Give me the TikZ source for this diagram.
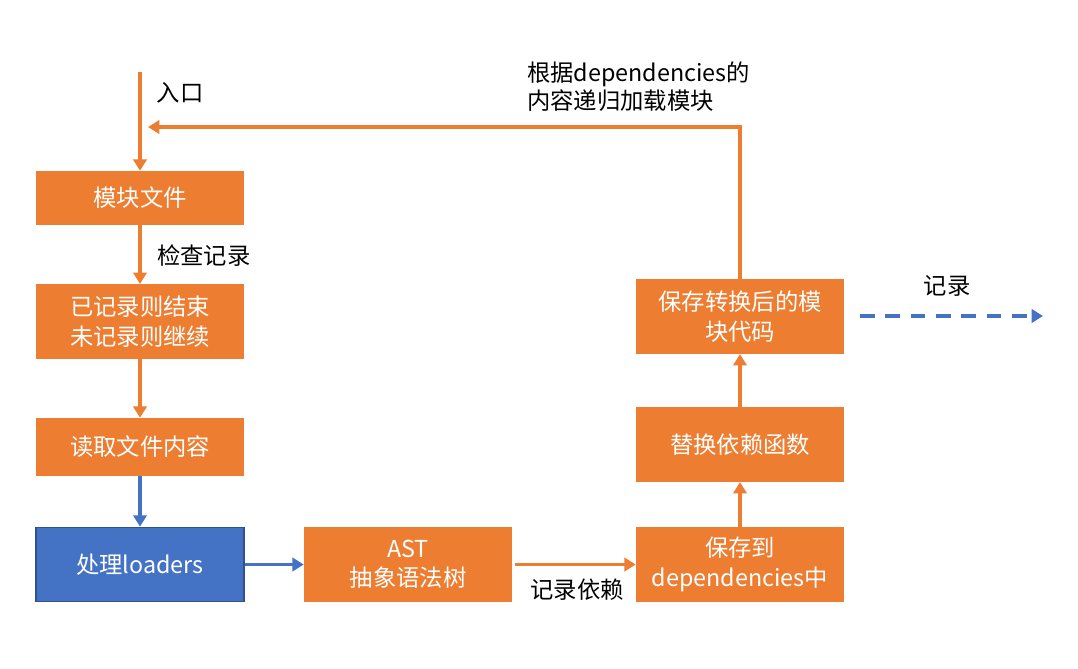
\documentclass[tikz,border=0pt]{standalone}
\usepackage{fontspec}
\setmainfont{Noto Sans CJK SC}
\usetikzlibrary{arrows.meta}
\definecolor{ora}{HTML}{ED7D31}
\definecolor{blu}{HTML}{4472C4}
\definecolor{bluedge}{HTML}{2F528F}
\begin{document}
\begin{tikzpicture}[x=0.75pt,y=-0.75pt,
  box/.style={fill=ora,text=white,minimum width=156pt,inner sep=0pt,align=center,font=\fontsize{17.5}{22}\selectfont},
  bbox/.style={box,fill=blu,draw=bluedge,line width=0.8pt},
  lbl/.style={text=black,inner sep=0pt,align=left,font=\fontsize{17.5}{21}\selectfont},
  oarrow/.style={draw=ora,line width=2.6pt,-{Triangle[length=8.5pt,width=10pt]}},
  barrow/.style={draw=blu,line width=2.6pt,-{Triangle[length=8.5pt,width=10pt]}}]
\useasboundingbox (0,0) rectangle (1078,668);
\node[box,minimum height=40.5pt] (m1) at (140,198) {模块文件};
\node[box,minimum height=56pt] (m2) at (140,321.5) {已记录则结束\\未记录则继续};
\node[box,minimum height=43.5pt] (m3) at (140,447) {读取文件内容};
\node[bbox,minimum height=56pt] (m4) at (140,564.5) {处理loaders};
\node[box,minimum height=56pt] (m5) at (408,564.5) {AST\\抽象语法树};
\node[box,minimum height=56pt] (m6) at (740,564.5) {保存到\\dependencies中};
\node[box,minimum height=56pt] (m7) at (740,444.5) {替换依赖函数};
\node[box,minimum height=56pt] (m8) at (740,316.5) {保存转换后的模\\块代码};
\coordinate (entry) at (140,72);
\coordinate (back) at (148,127);
\coordinate (ds) at (860,316);
\coordinate (de) at (1043,316);
\node[lbl] (l1) at (180,93) {入口};
\node[lbl,anchor=west] (l2) at (157,256) {检查记录};
\node[lbl] (l3) at (577,590) {记录依赖};
\node[lbl] (l4) at (947,286) {记录};
\node[lbl,anchor=west] (l5) at (527,87) {根据dependencies的\\内容递归加载模块};
\draw[oarrow] (entry) -- (m1.north);
\draw[oarrow] (m1.south) -- (m2.north);
\draw[oarrow] (m2.south) -- (m3.north);
\draw[barrow] (m3.south) -- (m4.north);
\draw[barrow] (m4.east) -- (m5.west);
\draw[oarrow] ([xshift=2pt]m5.east) -- (m6.west);
\draw[oarrow] (m6.north) -- (m7.south);
\draw[oarrow] (m7.north) -- (m8.south);
\draw[oarrow] (m8.north) |- (back);
\draw[barrow,line width=3pt,dash pattern=on 11pt off 8pt] (ds) -- (de);
\end{tikzpicture}
\end{document}
